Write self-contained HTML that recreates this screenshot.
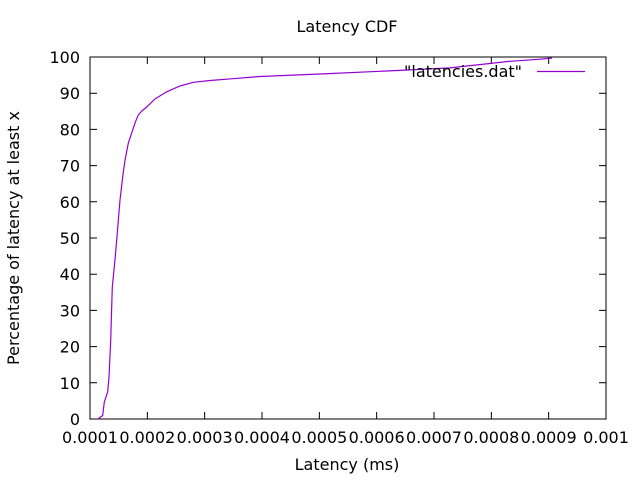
<!DOCTYPE html>
<html><head><meta charset="utf-8"><style>
body{margin:0;background:#fff}
svg{display:block;font-family:"DejaVu Sans","Liberation Sans",sans-serif;font-size:16px}
</style></head><body>
<svg id="c" width="640" height="480"></svg>
<script>
const latencies=[0.0001140,0.0001222,0.0001249,0.0001309,0.0001331,0.0001361,0.0001389,0.0001436,0.0001476,0.0001523,0.0001570,0.0001610,0.0001668,0.0001710,0.0001745,0.0001790,0.0001842,0.0001910,0.0001989,0.0002134,0.0002338,0.0002570,0.0002802,0.0003093,0.0003494,0.0003965,0.0005012,0.0006407,0.0007279,0.0008326,0.0008849,0.0009058];
const percents=[0,1,4.7,7.5,11.6,21.8,36.5,44,51.4,60.5,66.9,71.5,76.2,78.2,79.8,82,84,85.2,86.2,88.4,90.4,92,93,93.5,94,94.6,95.3,96.3,97.0,98.8,99.4,99.7];
const xTicks=[0.0001,0.0002,0.0003,0.0004,0.0005,0.0006,0.0007,0.0008,0.0009,0.001];
const xTickLabels=["0.0001","0.0002","0.0003","0.0004","0.0005","0.0006","0.0007","0.0008","0.0009","0.001"];
const yTicks=[0,10,20,30,40,50,60,70,80,90,100];
const L=90,R=606,T=57,B=419;
const xs=v=>L+(v-0.0001)/0.0009*(R-L);
const ys=v=>B-v/100*(B-T);
const svg=document.getElementById('c');
const NS='http://www.w3.org/2000/svg';
function mk(t,a,txt){const e=document.createElementNS(NS,t);for(const k in a)e.setAttribute(k,a[k]);if(txt!=null)e.textContent=txt;svg.appendChild(e);return e;}
let e;
e=mk('rect',{x:L,y:T,width:R-L,height:B-T,fill:'none',stroke:'#000','stroke-width':1});


yTicks.forEach(v=>{
  const y=ys(v);
  e=mk('path',{d:`M${L} ${y}h7M${R} ${y}h-7`,stroke:'#000'});
  
  
  e=mk('text',{x:L-10,y:y+6,'text-anchor':'end'},String(v));
  
  
});
xTicks.forEach((v,i)=>{
  const x=xs(v);
  e=mk('path',{d:`M${x} ${B}v-7M${x} ${T}v7`,stroke:'#000'});
  
  
  e=mk('text',{x:x,y:B+24,'text-anchor':'middle'},xTickLabels[i]);
  
  
});
let d='';
latencies.forEach((v,i)=>{d+=(i?'L':'M')+xs(v).toFixed(1)+' '+ys(percents[i]).toFixed(1);});
e=mk('path',{d:d,fill:'none',stroke:'#9400d3','stroke-width':1.2});


e=mk('text',{x:522,y:77,'text-anchor':'end'},'"latencies.dat"');


e=mk('path',{d:'M537 71.5H585',stroke:'#9400d3','stroke-width':1.2});


e=mk('text',{x:347,y:32,'text-anchor':'middle'},'Latency CDF');


e=mk('text',{x:347,y:470,'text-anchor':'middle'},'Latency (ms)');


e=mk('text',{x:0,y:0,'text-anchor':'middle',transform:'translate(19,238) rotate(-90)'},'Percentage of latency at least x');


</script>
</body></html>
